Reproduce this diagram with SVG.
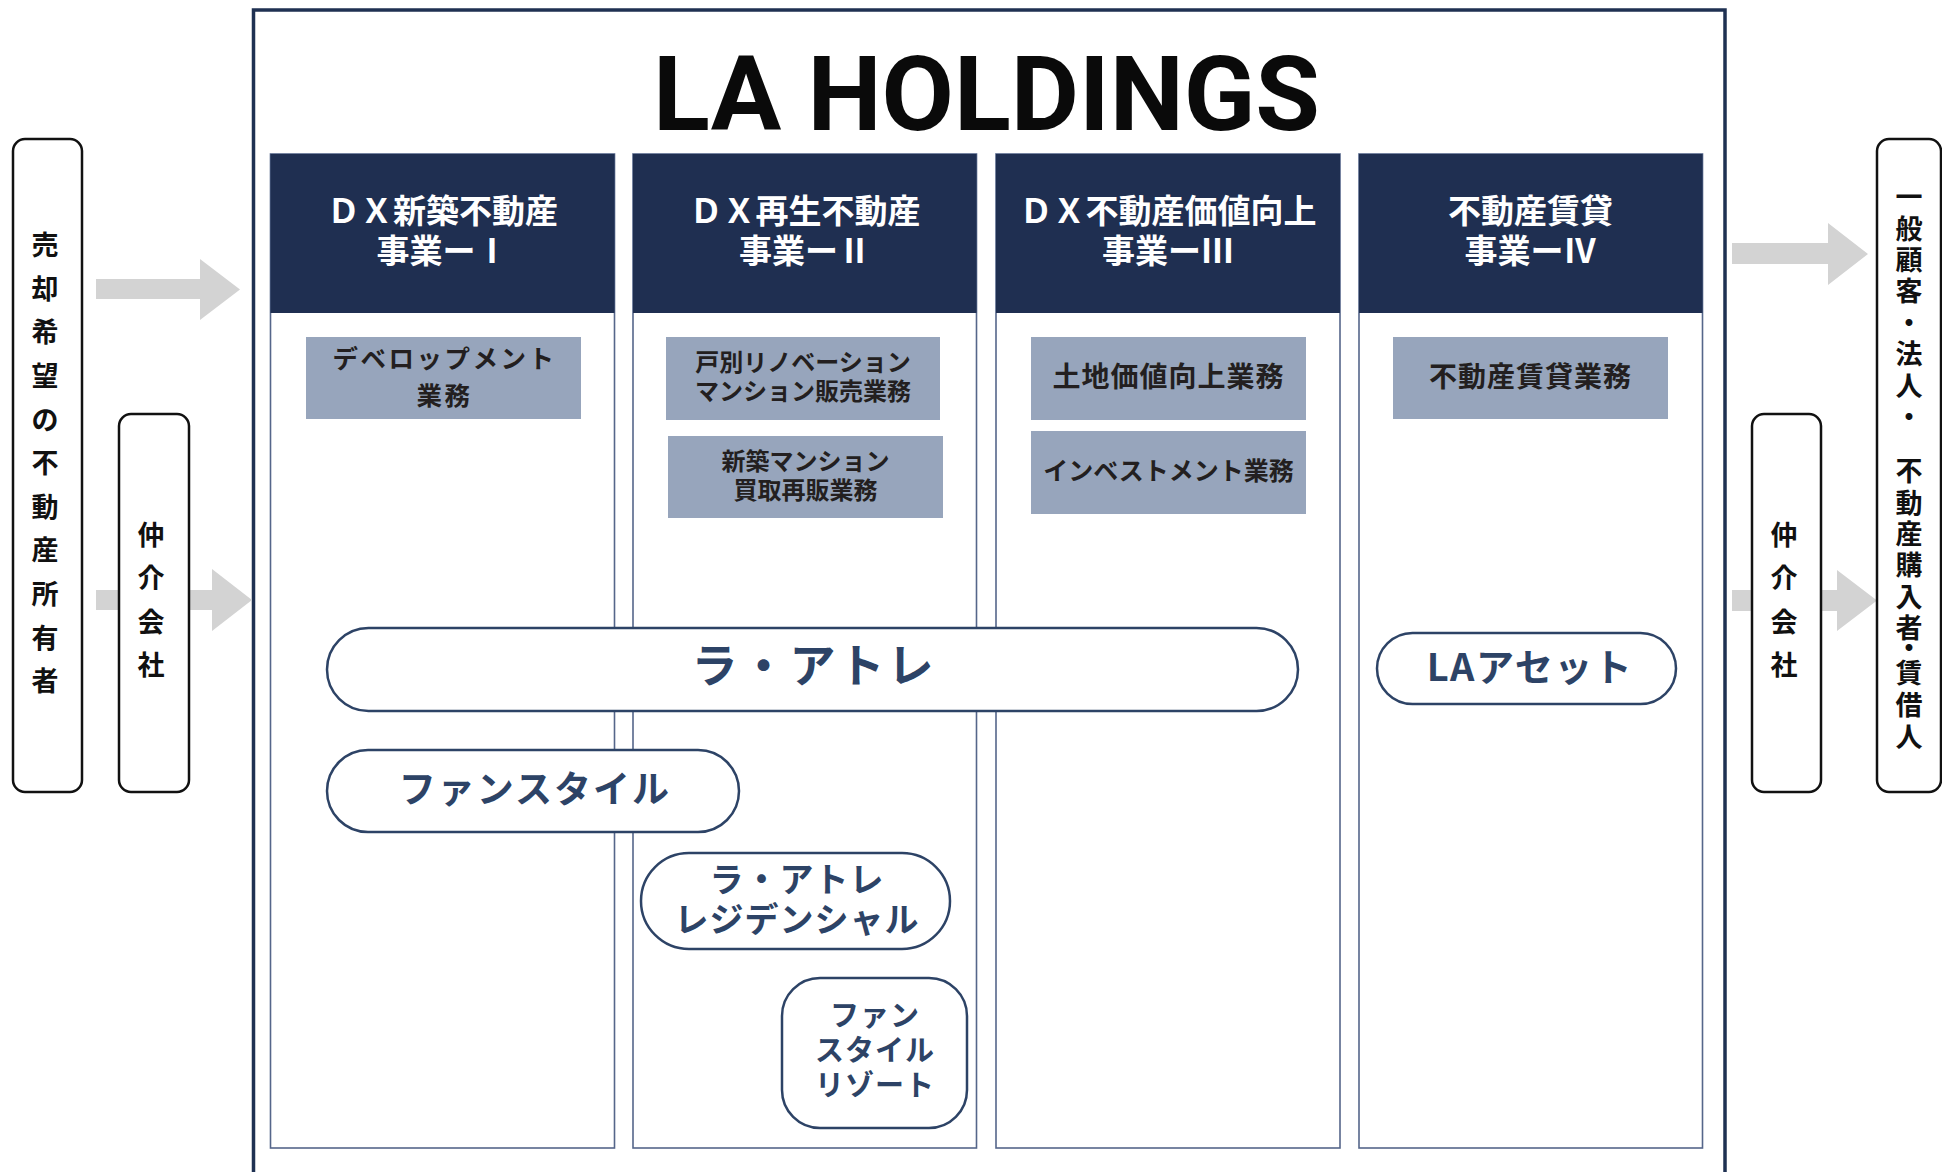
<svg xmlns="http://www.w3.org/2000/svg" width="1942" height="1172" viewBox="0 0 1942 1172">
<style>
.jp{font-family:"Noto Sans CJK JP","Noto Sans",sans-serif}
.col{fill:#ffffff;stroke:#55668a;stroke-width:1.6}
.hdr{fill:#1f2f51}
.htx{fill:#ffffff;font-size:33px;font-weight:700;text-anchor:middle}
.sub{fill:#97a5bc}
.stx{fill:#231f20;font-weight:700;text-anchor:middle}
.pill{fill:#ffffff;stroke:#2d4366;stroke-width:2.5}
.ptx{fill:#2d4366;font-weight:700;text-anchor:middle}
.vbox{fill:#ffffff;stroke:#111111;stroke-width:2.5}
.vtx{fill:#111111;font-size:27px;font-weight:700;text-anchor:middle}
.vrt{fill:#111111;font-size:27px;font-weight:700;writing-mode:vertical-rl}
.arr{fill:#d3d3d3}
</style>
<rect width="1942" height="1172" fill="#ffffff"/>
<g id="frame">
<rect x="253.5" y="10" width="1471.5" height="1180" fill="#ffffff" stroke="#1f3152" stroke-width="3.5"/>
<text x="653" y="130" font-family="Roboto,'Liberation Sans',sans-serif" font-weight="700" font-size="104" fill="#0a0a0a" textLength="667" lengthAdjust="spacingAndGlyphs">LA HOLDINGS</text>
</g>
<g id="col1">
<rect class="col" x="270.5" y="154" width="344" height="994"/>
<rect class="hdr" x="270.5" y="154" width="344" height="159"/>
<text class="jp htx" x="442.5" y="222.5">ＤＸ新築不動産</text>
<text class="jp htx" x="442.5" y="263">事業ーⅠ</text>
</g>
<g id="col2">
<rect class="col" x="633" y="154" width="343.5" height="994"/>
<rect class="hdr" x="633" y="154" width="343.5" height="159"/>
<text class="jp htx" x="805" y="222.5">ＤＸ再生不動産</text>
<text class="jp htx" x="805" y="263">事業ーⅡ</text>
</g>
<g id="col3">
<rect class="col" x="996" y="154" width="344" height="994"/>
<rect class="hdr" x="996" y="154" width="344" height="159"/>
<text class="jp htx" x="1168" y="222.5">ＤＸ不動産価値向上</text>
<text class="jp htx" x="1168" y="263">事業ーⅢ</text>
</g>
<g id="col4">
<rect class="col" x="1359" y="154" width="343.5" height="994"/>
<rect class="hdr" x="1359" y="154" width="343.5" height="159"/>
<text class="jp htx" x="1530.5" y="222.5">不動産賃貸</text>
<text class="jp htx" x="1530.5" y="263">事業ーⅣ</text>
</g>
<g id="sub-development">
<rect class="sub" x="306" y="337" width="275" height="82"/>
<text class="jp stx" x="444.5" y="367.5" font-size="25.5" letter-spacing="2.5">デベロップメント</text>
<text class="jp stx" x="444.5" y="404.5" font-size="25.5" letter-spacing="2.5">業務</text>
</g>
<g id="sub-renovation">
<rect class="sub" x="666" y="337" width="274" height="83"/>
<text class="jp stx" x="803" y="371" font-size="24">戸別リノベーション</text>
<text class="jp stx" x="803" y="400" font-size="24">マンション販売業務</text>
</g>
<g id="sub-resale">
<rect class="sub" x="668" y="436" width="275" height="82"/>
<text class="jp stx" x="805.5" y="470" font-size="24">新築マンション</text>
<text class="jp stx" x="805.5" y="499" font-size="24">買取再販業務</text>
</g>
<g id="sub-land">
<rect class="sub" x="1031" y="337" width="275" height="83"/>
<text class="jp stx" x="1168.5" y="387" font-size="28" letter-spacing="1">土地価値向上業務</text>
</g>
<g id="sub-investment">
<rect class="sub" x="1031" y="431" width="275" height="83"/>
<text class="jp stx" x="1168.5" y="480" font-size="25">インベストメント業務</text>
</g>
<g id="sub-rental">
<rect class="sub" x="1393" y="337" width="275" height="82"/>
<text class="jp stx" x="1530.5" y="387" font-size="28" letter-spacing="1">不動産賃貸業務</text>
</g>
<g id="pill-latrait">
<rect class="pill" x="327" y="628" width="971" height="83" rx="41.5"/>
<text class="jp ptx" x="814" y="682" font-size="46" letter-spacing="3">ラ・アトレ</text>
</g>
<g id="pill-fanstyle">
<rect class="pill" x="327" y="750" width="412" height="82" rx="41"/>
<text class="jp ptx" x="535" y="803" font-size="37" letter-spacing="2">ファンスタイル</text>
</g>
<g id="pill-latrait-residential">
<rect class="pill" x="641" y="853" width="309" height="96" rx="48"/>
<text class="jp ptx" x="797" y="892" font-size="34" letter-spacing="1">ラ・アトレ</text>
<text class="jp ptx" x="797" y="931.5" font-size="34" letter-spacing="1">レジデンシャル</text>
</g>
<g id="pill-fanstyle-resort">
<rect class="pill" x="782" y="978" width="185" height="150" rx="38"/>
<text class="jp ptx" x="875" y="1026" font-size="29" letter-spacing="1">ファン</text>
<text class="jp ptx" x="875" y="1061" font-size="29" letter-spacing="1">スタイル</text>
<text class="jp ptx" x="875" y="1096" font-size="29" letter-spacing="1">リゾート</text>
</g>
<g id="pill-laasset">
<rect class="pill" x="1377" y="633" width="299" height="71" rx="35.5"/>
<text class="jp ptx" x="1530" y="681" font-size="38" letter-spacing="1.5">LAアセット</text>
</g>
<g id="connectors">
<polygon class="arr" points="96,279 200,279 200,259 240,289.5 200,320 200,299 96,299"/>
<polygon class="arr" points="96,590 212,590 212,569 252,600 212,631 212,610 96,610"/>
<polygon class="arr" points="1732,243 1828,243 1828,223 1868,254 1828,285 1828,264 1732,264"/>
<polygon class="arr" points="1732,590 1837,590 1837,570 1877,600.5 1837,631 1837,611 1732,611"/>
</g>
<g id="seller">
<rect class="vbox" x="13" y="139" width="69" height="653" rx="12"/>
<text class="jp vtx"><tspan x="45" y="255">売</tspan><tspan x="45" y="299">却</tspan><tspan x="45" y="342">希</tspan><tspan x="45" y="386">望</tspan><tspan x="45" y="430">の</tspan><tspan x="45" y="473">不</tspan><tspan x="45" y="517">動</tspan><tspan x="45" y="560">産</tspan><tspan x="45" y="604">所</tspan><tspan x="45" y="648">有</tspan><tspan x="45" y="691">者</tspan></text>
</g>
<g id="broker-left">
<rect class="vbox" x="119" y="414" width="70" height="378" rx="12"/>
<text class="jp vtx"><tspan x="151" y="545">仲</tspan><tspan x="151" y="588">介</tspan><tspan x="151" y="632">会</tspan><tspan x="151" y="675">社</tspan></text>
</g>
<g id="broker-right">
<rect class="vbox" x="1752" y="414" width="69" height="378" rx="12"/>
<text class="jp vtx"><tspan x="1784" y="545">仲</tspan><tspan x="1784" y="588">介</tspan><tspan x="1784" y="632">会</tspan><tspan x="1784" y="675">社</tspan></text>
</g>
<g id="customers">
<rect class="vbox" x="1877" y="139" width="64" height="653" rx="12"/>
<text class="jp vrt" x="1909" y="183.5"><tspan letter-spacing="4.4">一般顧客・法人</tspan><tspan letter-spacing="27">・</tspan><tspan letter-spacing="4.4">不動産購入</tspan><tspan letter-spacing="-7">者</tspan><tspan letter-spacing="-2">・</tspan><tspan letter-spacing="5">賃借人</tspan></text>
</g>
</svg>
